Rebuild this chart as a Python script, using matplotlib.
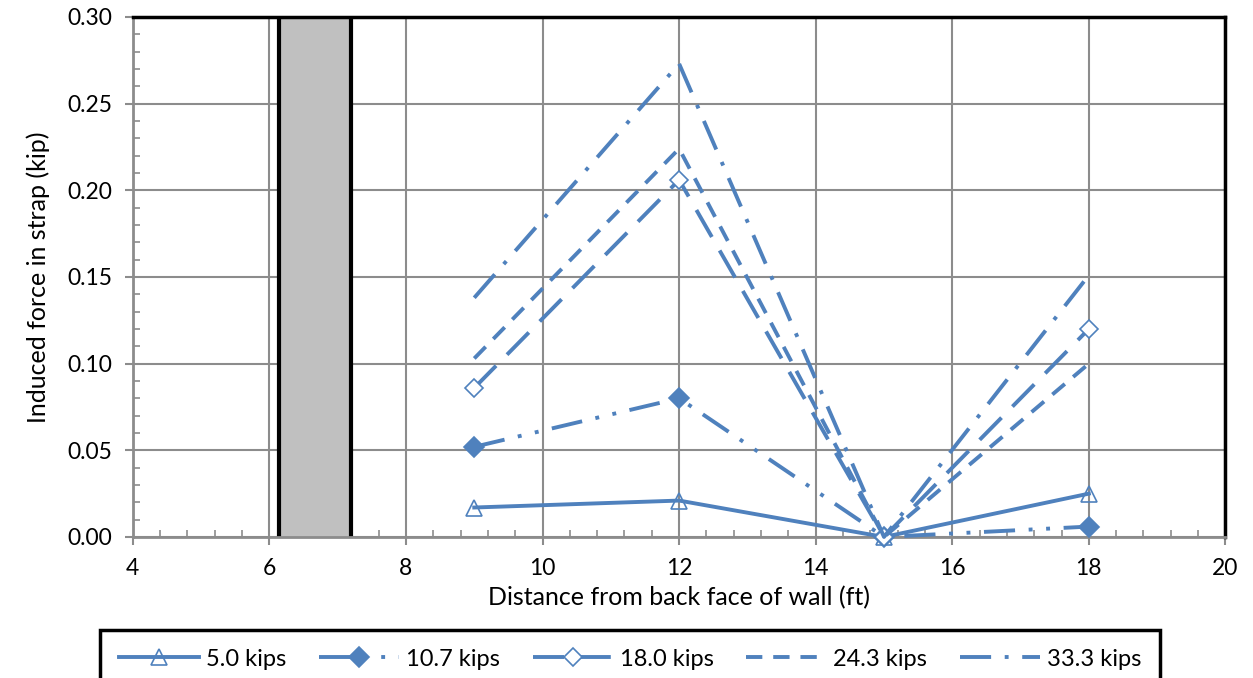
import numpy as np
import matplotlib.pyplot as plt
from matplotlib.ticker import MultipleLocator, FormatStrFormatter

plt.rcParams['font.family'] = ['Lato', 'DejaVu Sans']

# data
distance = [9, 12, 15, 18]
labels = ['5.0 kips', '10.7 kips', '18.0 kips', '24.3 kips', '33.3 kips']
force_5_0 = [0.017, 0.021, 0.0, 0.025]
force_10_7 = [0.052, 0.080, 0.0, 0.006]
force_18_0 = [0.086, 0.206, 0.0, 0.120]
force_24_3 = [0.103, 0.224, 0.0, 0.100]
force_33_3 = [0.138, 0.273, 0.0, 0.151]
wall_left, wall_right = 6.14, 7.2

blue = '#4F81BD'
lw = 2.8

fig = plt.figure(figsize=(12.53, 6.78), dpi=100)
ax = fig.add_axes([0.106, 0.208, 0.872, 0.767])

# wall
ax.axvspan(wall_left, wall_right, color='#C0C0C0', zorder=1)
ax.axvline(wall_left, color='black', lw=3, zorder=2)
ax.axvline(wall_right, color='black', lw=3, zorder=2)

series = [
    (force_5_0, '-', '^', 'none'),
    (force_10_7, (0, (8, 3.5, 1, 3.5, 1, 3.5)), 'D', blue),
    (force_18_0, (0, (8, 4)), 'D', 'white'),
    (force_24_3, (0, (4.2, 2.8)), None, blue),
    (force_33_3, (0, (8, 3.5, 1, 3.5)), None, blue),
]
sizes = [12, 10, 9, 0, 0]
for (vals, ls, mk, fc), lab, ms in zip(series, labels, sizes):
    ax.plot(distance, vals, color=blue, lw=lw, linestyle=ls, marker=mk,
            markersize=ms, markerfacecolor=fc, markeredgecolor=blue,
            markeredgewidth=1.2, label=lab, clip_on=False, zorder=3)

ax.set_xlim(4, 20)
ax.set_ylim(0, 0.30)
ax.xaxis.set_major_locator(MultipleLocator(2))
ax.xaxis.set_minor_locator(MultipleLocator(0.4))
ax.yaxis.set_major_locator(MultipleLocator(0.05))
ax.yaxis.set_minor_locator(MultipleLocator(0.01))
ax.yaxis.set_major_formatter(FormatStrFormatter('%.2f'))
ax.grid(True, which='major', color='#8C8C8C', lw=1.5, zorder=0)
ax.set_axisbelow(True)

ax.tick_params(which='major', direction='out', length=6, width=1.5,
               color='#8C8C8C', labelsize=16.5)
ax.tick_params(axis='y', which='major', pad=9)
ax.tick_params(axis='x', which='major', pad=9)
ax.tick_params(which='minor', direction='in', length=5, width=1.2,
               color='#8C8C8C')

for side in ['left', 'bottom']:
    ax.spines[side].set_color('#8C8C8C')
    ax.spines[side].set_linewidth(2)
for side in ['top', 'right']:
    ax.spines[side].set_color('black')
    ax.spines[side].set_linewidth(2.5)

ax.set_xlabel('Distance from back face of wall (ft)', fontsize=18, labelpad=5)
ax.set_ylabel('Induced force in strap (kip)', fontsize=18, labelpad=12)

leg = fig.legend(loc='upper left', bbox_to_anchor=(0.08, 0.071, 0.846, 0.0),
                 mode='expand', ncol=5, fontsize=17, frameon=True,
                 fancybox=False, framealpha=1, borderaxespad=0,
                 handlelength=3.4, borderpad=0.8,
                 handletextpad=0.3, columnspacing=1.5)
leg.get_frame().set_edgecolor('black')
leg.get_frame().set_linewidth(2.5)

fig.savefig('out.png', dpi=100)
